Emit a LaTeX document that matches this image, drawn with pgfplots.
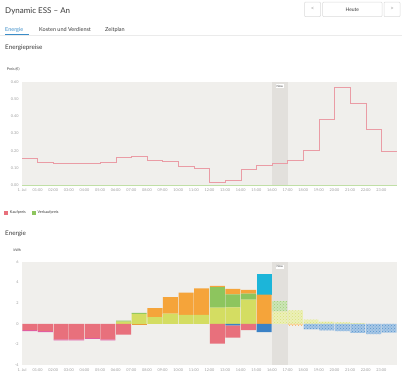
\documentclass[border=0pt]{standalone}
\usepackage{pgfplots}
\usepackage{pgfplotstable}
\pgfplotsset{compat=1.18}
\usetikzlibrary{patterns}
\usepackage{fontspec}
\setmainfont{Lato}
\definecolor{bgc}{HTML}{F0EFEC}
\definecolor{nowc}{HTML}{E2E0DC}
\definecolor{tickc}{HTML}{9A9A9A}
\definecolor{txt}{HTML}{3A3A3A}
\definecolor{tabblue}{HTML}{3A8CC8}
\definecolor{sepc}{HTML}{EBEBEB}
\definecolor{btnc}{HTML}{DADADA}
\definecolor{pricec}{HTML}{EA9CA5}
\definecolor{kaufc}{HTML}{E8707C}
\definecolor{verkc}{HTML}{8DC55E}
\definecolor{cred}{HTML}{E8707C}
\definecolor{cpink}{HTML}{E05CA6}
\definecolor{corange}{HTML}{F5A43A}
\definecolor{cyellow}{HTML}{D4DD62}
\definecolor{cgreen}{HTML}{8DC55E}
\definecolor{ccyan}{HTML}{1CB5D9}
\definecolor{cblue}{HTML}{3B82C6}

\pgfplotstableread{
h p
0 0.157
1 0.135
2 0.125
3 0.125
4 0.126
5 0.133
6 0.163
7 0.169
8 0.147
9 0.137
10 0.112
11 0.098
12 0.018
13 0.027
14 0.091
15 0.116
16 0.125
17 0.146
18 0.205
19 0.385
20 0.567
21 0.477
22 0.322
23 0.197
24 0.197
}\pricetab

\pgfplotstableread{
h yel grn org cya yelF grnF
0.5 0 0 0 0 0 0
1.5 0 0 0 0 0 0
2.5 0 0 0 0 0 0
3.5 0 0 0 0 0 0
4.5 0 0 0 0 0 0
5.5 0 0 0 0 0 0
6.5 0.22 0.10 0 0 0 0
7.5 0.97 0.10 0 0 0 0
8.5 0.65 0 0.87 0 0 0
9.5 1.00 0 1.60 0 0 0
10.5 0.87 0 2.16 0 0 0
11.5 0.87 0 2.57 0 0 0
12.5 1.57 2.00 0.12 0 0 0
13.5 1.60 1.25 0.55 0 0 0
14.5 2.35 0.58 0.36 0 0 0
15.5 0 0 2.84 2.03 0 0
16.5 0 0 0 0 1.20 0.98
17.5 0 0 0 0 1.31 0
18.5 0 0 0 0 0.40 0
19.5 0 0 0 0 0.22 0
20.5 0 0 0 0 0.14 0
21.5 0 0 0 0 0.06 0
22.5 0 0 0 0 0 0
23.5 0 0 0 0 0 0
}\postab

\pgfplotstableread{
h blu bluF org orgF red pink
0.5 0 0 0 0 -0.62 -0.08
1.5 0 0 0 0 -0.72 -0.08
2.5 0 0 0 0 -1.52 -0.08
3.5 0 0 0 0 -1.52 -0.08
4.5 0 0 0 0 -1.38 -0.08
5.5 0 0 0 0 -1.52 -0.08
6.5 0 0 0 0 -1.06 0
7.5 0 0 -0.15 0 0 0
8.5 0 0 0 0 0 0
9.5 0 0 0 0 0 0
10.5 0 0 0 0 0 0
11.5 0 0 0 0 0 0
12.5 0 0 0 0 -1.92 0
13.5 -0.15 0 0 0 -1.20 0
14.5 0 0 0 0 -0.62 0
15.5 -0.80 0 0 0 0 0
16.5 0 0 0 0 0 0
17.5 0 0 0 -0.13 0 0
18.5 0 -0.53 0 0 0 0
19.5 0 -0.63 0 0 0 0
20.5 0 -0.70 0 0 0 0
21.5 0 -0.87 0 0 0 0
22.5 0 -1.00 0 0 0 0
23.5 0 -0.85 0 0 0 0
}\negtab

\pgfplotsset{
  common/.style={
    scale only axis, width=375pt, height=103pt,
    xmin=0, xmax=24,
    anchor=north west,
    axis line style={draw=none},
    tick style={draw=none},
    tick label style={font=\fontsize{3.8}{4.5}\selectfont, text=tickc},
    /pgf/number format/assume math mode=true,
    xtick={0,...,23},
    xticklabels={1. Jul,01:00,02:00,03:00,04:00,05:00,06:00,07:00,08:00,09:00,10:00,11:00,12:00,13:00,14:00,15:00,16:00,17:00,18:00,19:00,20:00,21:00,22:00,23:00},
  },
  over/.style={common, xtick=\empty, ytick=\empty},
  fc/.style={fill=#1!45!white, draw=none, postaction={pattern=crosshatch dots, pattern color=#1!85!white}},
}

\begin{document}
\begin{tikzpicture}
\useasboundingbox (0pt,0pt) rectangle (402pt,-375pt);
% header
\node[anchor=base west, inner sep=0pt, font=\fontsize{8}{9}\selectfont, text=txt] at (5pt,-13pt) {Dynamic ESS – An};
\draw[btnc, line width=0.5pt, rounded corners=1pt] (304.5pt,-2pt) rectangle (320.5pt,-16.7pt);
\draw[btnc, line width=0.5pt, rounded corners=1pt] (322.7pt,-2pt) rectangle (382pt,-16.7pt);
\draw[btnc, line width=0.5pt, rounded corners=1pt] (384pt,-2pt) rectangle (400pt,-16.7pt);
\node[inner sep=0pt, font=\fontsize{6}{7}\selectfont, text=tickc] at (312.5pt,-9.3pt) {<};
\node[inner sep=0pt, font=\fontsize{6}{7}\selectfont, text=tickc] at (392pt,-9.3pt) {>};
\node[inner sep=0pt, font=\fontsize{5}{6}\selectfont, text=txt] at (352.3pt,-9.3pt) {Heute};
% tabs
\draw[sepc, line width=1.2pt] (0pt,-35.6pt) -- (402pt,-35.6pt);
\draw[tabblue, line width=0.8pt] (5pt,-34.2pt) -- (29pt,-34.2pt);
\node[anchor=base west, inner sep=0pt, font=\fontsize{5.5}{6.5}\selectfont, text=tabblue] at (5pt,-31pt) {Energie};
\node[anchor=base west, inner sep=0pt, font=\fontsize{5.5}{6.5}\selectfont, text=txt] at (39pt,-31pt) {Kosten und Verdienst};
\node[anchor=base west, inner sep=0pt, font=\fontsize{5.5}{6.5}\selectfont, text=txt] at (105pt,-31pt) {Zeitplan};
% section titles
\node[anchor=base west, inner sep=0pt, font=\fontsize{6.3}{7}\selectfont, text=txt] at (5pt,-49.8pt) {Energiepreise};
\node[anchor=base west, inner sep=0pt, font=\fontsize{3.6}{4}\selectfont, text=txt] at (6.7pt,-70pt) {Preis (€)};
\node[anchor=base west, inner sep=0pt, font=\fontsize{6.3}{7}\selectfont, text=txt] at (5pt,-235pt) {Energie};
\node[anchor=base west, inner sep=0pt, font=\fontsize{3.6}{4}\selectfont, text=txt] at (13.3pt,-251pt) {kWh};

% price chart background with ticks and "Now" band
\begin{axis}[common, at={(22pt,-82pt)},
  ymin=0, ymax=0.6,
  ytick={0,0.1,0.2,0.3,0.4,0.5,0.6},
  yticklabels={0.00,0.10,0.20,0.30,0.40,0.50,0.60},
  axis background/.style={fill=bgc},
]
\fill[nowc] (axis cs:16,0) rectangle (axis cs:17,0.6);
\end{axis}
% price lines
\begin{axis}[over, at={(22pt,-82pt)},
  ymin=0, ymax=0.6, clip=false,
  legend style={at={(-0.048,-0.269)}, anchor=west, draw=none, fill=none,
    font=\fontsize{3.8}{4.5}\selectfont, text=txt, legend columns=2,
    inner sep=0pt, /tikz/every even column/.append style={column sep=4pt}},
  legend image code/.code={\fill[#1] (0pt,-1.9pt) rectangle (3.8pt,1.9pt);},
]
\addplot[const plot, color=verkc!55!white, line width=0.7pt, forget plot] coordinates {(0,0) (24,0)};
\addplot[const plot, color=pricec, line width=0.5pt, forget plot] table[x=h, y=p] {\pricetab};
\node[fill=white, inner sep=0.8pt, font=\fontsize{3}{3.5}\selectfont, text=txt] at (axis cs:16.5,0.575) {Now};
\addlegendimage{fill=kaufc, draw=none}
\addlegendentry{Kaufpreis}
\addlegendimage{fill=verkc, draw=none}
\addlegendentry{Verkaufpreis}
\end{axis}

% energy chart background with ticks and "Now" band
\begin{axis}[common, at={(22pt,-262pt)},
  ymin=-4, ymax=6,
  ytick={-4,-2,0,2,4,6},
  yticklabels={-4,-2,0,2,4,6},
  axis background/.style={fill=bgc},
]
\fill[nowc] (axis cs:16,-4) rectangle (axis cs:17,6);
\node[fill=white, inner sep=0.8pt, font=\fontsize{3}{3.5}\selectfont, text=txt] at (axis cs:16.5,5.55) {Now};
\end{axis}
% energy chart, positive
\begin{axis}[over, at={(22pt,-262pt)},
  ymin=-4, ymax=6,
  ybar stacked, bar width=15pt,
]
\addplot[fill=cyellow, draw=none] table[x=h, y=yel] {\postab};
\addplot[fill=cgreen, draw=none] table[x=h, y=grn] {\postab};
\addplot[fill=corange, draw=none] table[x=h, y=org] {\postab};
\addplot[fill=ccyan, draw=none] table[x=h, y=cya] {\postab};
\addplot[fc=cyellow] table[x=h, y=yelF] {\postab};
\addplot[fc=cgreen] table[x=h, y=grnF] {\postab};
\end{axis}
% energy chart, negative
\begin{axis}[over, at={(22pt,-262pt)},
  ymin=-4, ymax=6,
  ybar stacked, bar width=15pt,
]
\addplot[fill=cblue, draw=none] table[x=h, y=blu] {\negtab};
\addplot[fc=cblue] table[x=h, y=bluF] {\negtab};
\addplot[fill=corange!80!brown, draw=none] table[x=h, y=org] {\negtab};
\addplot[fc=corange] table[x=h, y=orgF] {\negtab};
\addplot[fill=cred, draw=none] table[x=h, y=red] {\negtab};
\addplot[fill=cpink, draw=none] table[x=h, y=pink] {\negtab};
\end{axis}
\end{tikzpicture}
\end{document}
